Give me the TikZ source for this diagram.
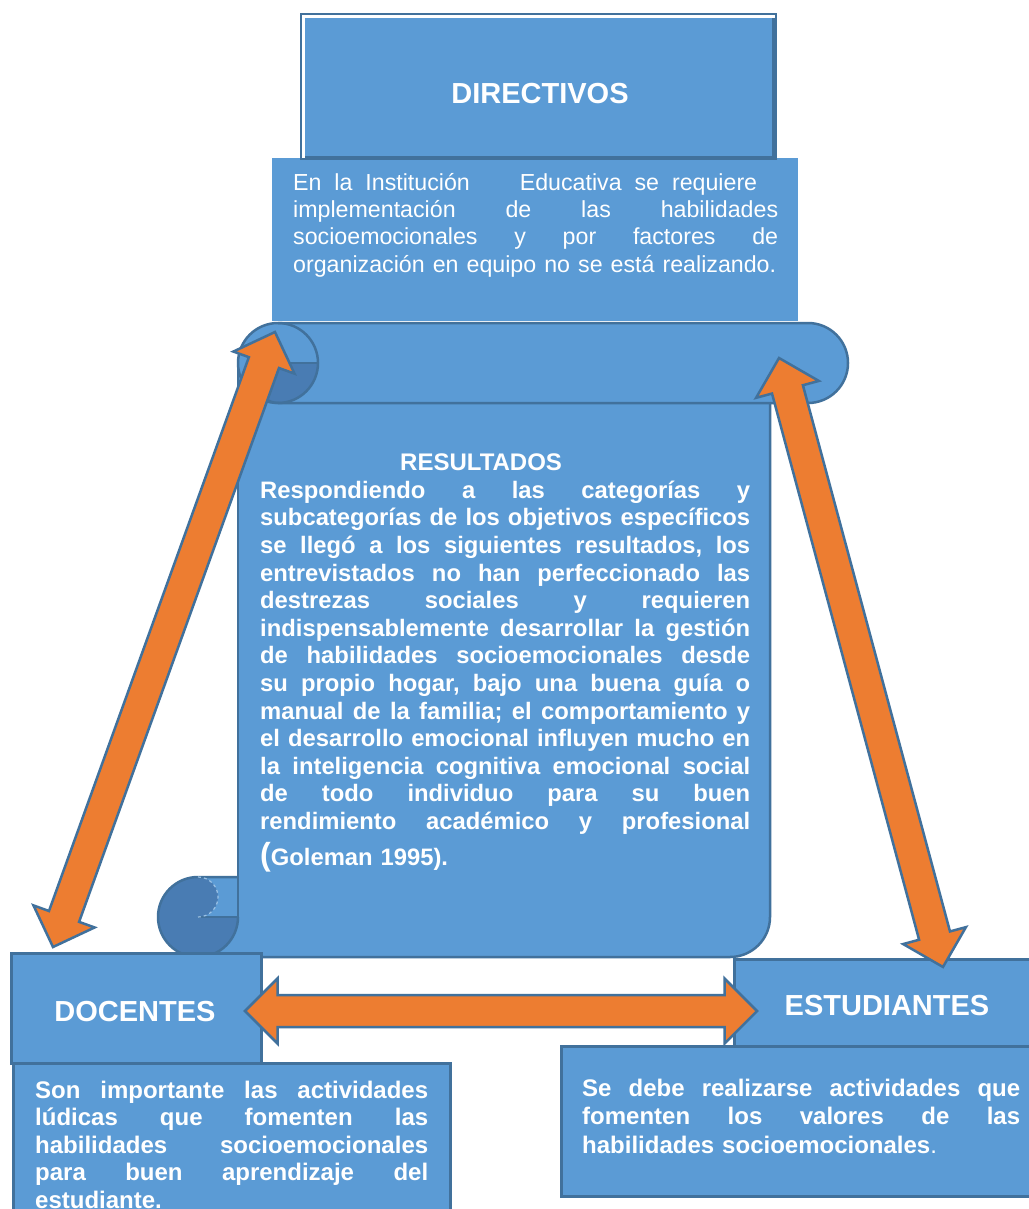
\documentclass[tikz,border=0pt]{standalone}
\usepackage{fontspec}
\setmainfont{Liberation Sans}
\setlength{\parindent}{0pt}
\definecolor{boxblue}{HTML}{5B9BD5}
\definecolor{edgeblue}{HTML}{41719C}
\definecolor{scrolldark}{HTML}{497CB3}
\definecolor{arroworange}{HTML}{ED7D31}
\definecolor{lightline}{HTML}{9DC3E6}
\newcommand\jline[2]{\leavevmode\hbox to #1{#2}}
\newcommand\jw{\hfill}
\newcommand\dblblockarrow[4]{%
  \pgfmathsetmacro\bdx{#3-#1}%
  \pgfmathsetmacro\bdy{#4-#2}%
  \pgfmathsetmacro\blen{veclen(\bdx,\bdy)}%
  \pgfmathsetmacro\bang{atan2(-\bdy,\bdx)}%
  \pgfmathsetmacro\bend{\blen-32.5}%
  \begin{scope}[shift={(#1,#2)}, rotate=\bang]
    \draw[blockarrow] (0,0) -- (32.5,-32.5) -- (32.5,-16) -- (\bend,-16) -- (\bend,-32.5) -- (\blen,0)
      -- (\bend,32.5) -- (\bend,16) -- (32.5,16) -- (32.5,32.5) -- cycle;
  \end{scope}}
\tikzset{
  boxnode/.style={fill=boxblue, draw=edgeblue, line width=2.5pt, inner sep=0pt},
  plainbox/.style={fill=boxblue, inner sep=0pt},
  scrollline/.style={draw=edgeblue, line width=2.5pt},
  blockarrow/.style={fill=arroworange, draw=edgeblue, line width=2.5pt, line join=miter},
  titletext/.style={text=white, inner sep=0pt, font=\fontsize{29pt}{34pt}\selectfont\bfseries},
  textblock/.style={text=white, inner sep=0pt, align=left, anchor=north west},
}
\begin{document}
\begin{tikzpicture}[x=1pt, y=-1pt]
\useasboundingbox (0,0) rectangle (1028,1209);
\fill[white] (0,0) rectangle (1028,1209);

% top text box
\node[plainbox, minimum width=526pt, minimum height=163pt, anchor=north west] (dirtextbox) at (272,158) {};
\node[textblock, text width=485pt, font=\fontsize{23.2pt}{27.4pt}\selectfont] (dirtext) at (293,166) {%
\rule{0pt}{24pt}\jline{464pt}{En \jw la \jw Institución\hspace{50pt}Educativa \jw se \jw requiere}\\
\jline{485pt}{implementación \jw de \jw las \jw habilidades}\\
\jline{485pt}{socioemocionales \jw y \jw por \jw factores \jw de}\\
\jline{483pt}{organización \jw en \jw equipo \jw no \jw se \jw está \jw realizando.}};

% DIRECTIVOS box
\node[draw=edgeblue, fill=white, line width=2pt, inner sep=0pt, minimum width=475pt, minimum height=145pt, anchor=north west] (dirframe) at (300,13) {};
\node[plainbox, minimum width=468pt, minimum height=139pt, anchor=north west] (dirbox) at (305,18) {};
\draw[edgeblue, line width=2.5pt] (dirbox.north east) -- (dirbox.south east) -- (dirbox.south west);
\node[titletext] (dirlabel) at (540,94) {DIRECTIVOS};

% scroll
\fill[boxblue] (278,323) -- (808,323) arc[start angle=270, end angle=450, radius=40] -- (770,403) -- (770,917)
  arc[start angle=0, end angle=90, radius=40] -- (198,957) arc[start angle=90, end angle=270, radius=40]
  -- (238,877) -- (238,363) arc[start angle=180, end angle=270, radius=40] -- cycle;
\fill[scrolldark] (278,363) -- (318,363) arc[start angle=0, end angle=90, radius=40] arc[start angle=90, end angle=270, radius=20] -- cycle;
\fill[scrolldark] (238,917) arc[start angle=0, end angle=270, radius=40] arc[start angle=-90, end angle=90, radius=20] -- cycle;
\draw[scrollline] (278,403) -- (808,403) arc[start angle=90, end angle=-90, radius=40] -- (278,323);
\draw[scrollline] (278,363) circle[radius=40];
\draw[scrollline] (278,363) -- (318,363);
\draw[scrollline] (278,403) arc[start angle=90, end angle=270, radius=20];
\draw[scrollline] (238,363) -- (238,917);
\draw[scrollline] (770,403) -- (770,917) arc[start angle=0, end angle=90, radius=40] -- (198,957);
\draw[scrollline] (238,917) arc[start angle=0, end angle=270, radius=40] -- (238,877);
\draw[scrollline] (198,917) -- (238,917);
\draw[lightline, line width=1.2pt, dashed] (198,877) arc[start angle=-90, end angle=90, radius=20];

% RESULTADOS
\node[text=white, inner sep=0pt, anchor=base west, font=\fontsize{24pt}{27.6pt}\selectfont\bfseries] (reshead) at (400,470) {RESULTADOS};
\node[textblock, text width=490pt, font=\fontsize{23.8pt}{27.6pt}\selectfont\bfseries] (restext) at (260,474) {%
\rule{0pt}{24pt}\jline{490pt}{Respondiendo \jw a \jw las \jw categorías \jw y}\\
\jline{490pt}{subcategorías \jw de \jw los \jw objetivos \jw específicos}\\
\jline{490pt}{se \jw llegó \jw a \jw los \jw siguientes \jw resultados, \jw los}\\
\jline{490pt}{entrevistados \jw no \jw han \jw perfeccionado \jw las}\\
\jline{490pt}{destrezas \jw sociales \jw y \jw requieren}\\
\jline{490pt}{indispensablemente \jw desarrollar \jw la \jw gestión}\\
\jline{490pt}{de \jw habilidades \jw socioemocionales \jw desde}\\
\jline{490pt}{su \jw propio \jw hogar, \jw bajo \jw una \jw buena \jw guía \jw o}\\
\jline{490pt}{manual \jw de \jw la \jw familia; \jw el \jw comportamiento \jw y}\\
\jline{490pt}{el \jw desarrollo \jw emocional \jw influyen \jw mucho \jw en}\\
\jline{490pt}{la \jw inteligencia \jw cognitiva \jw emocional \jw social}\\
\jline{490pt}{de \jw todo \jw individuo \jw para \jw su \jw buen}\\
\jline{490pt}{rendimiento \jw académico \jw y \jw profesional}\\[8.4pt]
\smash{\fontsize{32pt}{32pt}\selectfont(}Goleman 1995).};

% DOCENTES
\node[boxnode, minimum width=437pt, minimum height=165pt, anchor=north west] (doctextbox) at (12,1062) {};
\node[boxnode, minimum width=250pt, minimum height=110pt, anchor=north west] (docbox) at (10,952) {};
\node[titletext] (doclabel) at (135,1012) {DOCENTES};
\node[textblock, text width=393pt, font=\fontsize{24pt}{27.5pt}\selectfont\bfseries] (doctext) at (35,1074) {%
\rule{0pt}{24pt}\jline{393pt}{Son \jw importante \jw las \jw actividades}\\
\jline{393pt}{lúdicas \jw que \jw fomenten \jw las}\\
\jline{393pt}{habilidades \jw socioemocionales}\\
\jline{393pt}{para \jw buen \jw aprendizaje \jw del}\\
estudiante.};

% ESTUDIANTES
\node[boxnode, minimum width=480pt, minimum height=150pt, anchor=north west] (esttextbox) at (560,1045) {};
\node[boxnode, minimum width=310pt, minimum height=87pt, anchor=north west] (estbox) at (733,958) {};
\node[titletext] (estlabel) at (887,1005.5) {ESTUDIANTES};
\node[textblock, text width=438pt, font=\fontsize{24pt}{28.5pt}\selectfont\bfseries] (esttext) at (582,1072) {%
\rule{0pt}{24pt}\jline{438pt}{Se \jw debe \jw realizarse \jw actividades \jw que}\\
\jline{438pt}{fomenten \jw los \jw valores \jw de \jw las}\\
habilidades socioemocionales{\mdseries .}};

% arrows
\dblblockarrow{53}{947}{275}{332}
\dblblockarrow{779}{358}{943}{967}
\dblblockarrow{245}{1011}{757}{1011}
\end{tikzpicture}
\end{document}
